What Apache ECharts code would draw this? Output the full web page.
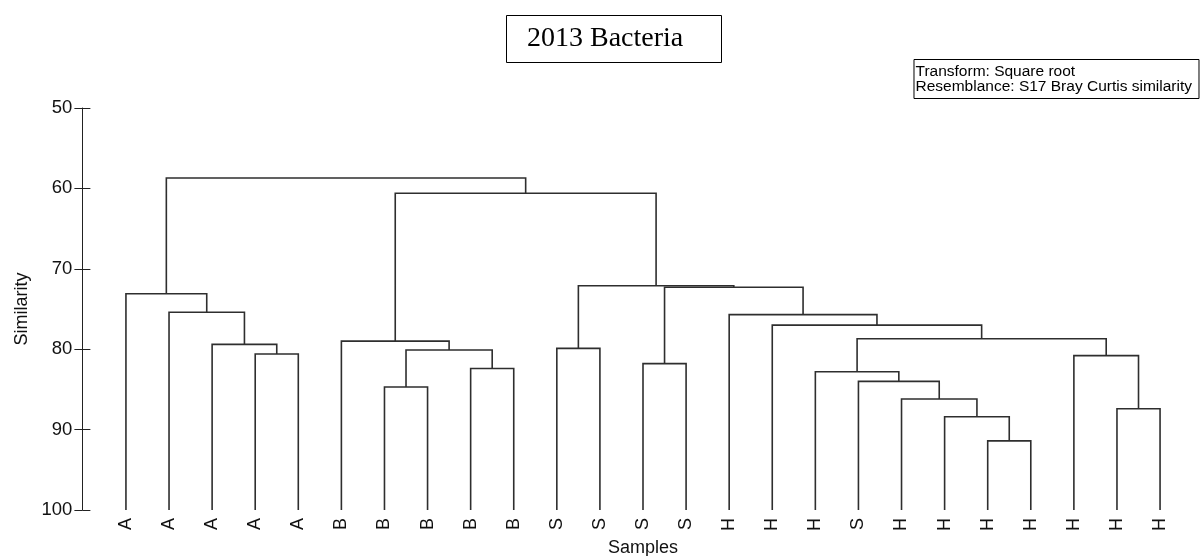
<!DOCTYPE html>
<html>
<head>
<meta charset="utf-8">
<script src="https://cdn.jsdelivr.net/npm/echarts@6/dist/echarts.min.js"></script>
<style>
  html, body { margin: 0; padding: 0; background: #fff; }
  #main { width: 1202px; height: 556px; }
</style>
</head>
<body>
<div id="main"></div>
<script>
// leaf labels, left to right
var leafLabels = ['A', 'A', 'A', 'A', 'A', 'B', 'B', 'B', 'B', 'B', 'S', 'S', 'S', 'S',
                  'H', 'H', 'H', 'S', 'H', 'H', 'H', 'H', 'H', 'H', 'H'];

// merges: [left child, right child, similarity]; leaves are 0..24, node k is 25+k
var mergeLeft  = [3, 2, 1, 0, 6, 8, 29, 5, 10, 12, 20, 19, 18, 17, 16, 23, 22, 39, 15, 14, 34, 33, 32, 28];
var mergeRight = [4, 25, 26, 27, 7, 9, 30, 31, 11, 13, 21, 35, 36, 37, 38, 24, 40, 41, 42, 43, 44, 45, 46, 47];
var mergeSim   = [80.6, 79.4, 75.4, 73.1, 84.7, 82.4, 80.1, 79.0, 79.9, 81.8, 91.4, 88.4, 86.2, 84.0,
                  82.8, 87.4, 80.8, 78.7, 77.0, 75.7, 72.3, 72.1, 60.6, 58.7];

var nLeaf = leafLabels.length;
var posX = [], posH = [];
for (var i = 0; i < nLeaf; i++) {
    posX.push(i + 0.5);   // centre of the category band
    posH.push(100);
}
var links = [];
for (var k = 0; k < mergeSim.length; k++) {
    var l = mergeLeft[k], r = mergeRight[k];
    links.push([posX[l], posX[r], posH[l], posH[r], mergeSim[k]]);
    posX.push((posX[l] + posX[r]) / 2);
    posH.push(mergeSim[k]);
}

var myChart = echarts.init(document.getElementById('main'));
var font = "'Liberation Sans', Arial, sans-serif";

option = {
    animation: false,
    backgroundColor: '#fff',
    title: [
        {
            text: '2013 Bacteria',
            left: 506,
            top: 15,
            borderColor: '#000',
            borderWidth: 1,
            padding: [8, 38, 8, 21],
            textStyle: {
                fontFamily: "'Liberation Serif', 'Times New Roman', serif",
                fontSize: 28,
                fontWeight: 'normal',
                lineHeight: 32,
                color: '#000'
            }
        },
        {
            text: 'Transform: Square root\nResemblance: S17 Bray Curtis similarity',
            right: 3,
            top: 60,
            borderColor: '#000',
            borderWidth: 1,
            padding: [4, 7, 4, 2],
            textStyle: {
                fontFamily: font,
                fontSize: 15.5,
                fontWeight: 'normal',
                lineHeight: 15,
                color: '#000'
            }
        }
    ],
    grid: {
        left: 104.4,
        right: 20.4,
        top: 108,
        bottom: 46,
        outerBoundsMode: 'none'
    },
    xAxis: [
        {
            type: 'value',
            min: 0,
            max: nLeaf,
            show: false
        },
        {
            type: 'category',
            data: leafLabels,
            boundaryGap: true,
            position: 'bottom',
            axisLine: { show: false, onZero: false },
            axisTick: { show: false },
            axisLabel: {
                interval: 0,
                rotate: 90,
                margin: 8,
                fontFamily: font,
                fontSize: 18,
                color: '#111'
            },
            name: 'Samples',
            nameLocation: 'middle',
            nameGap: 25,
            nameTextStyle: { fontFamily: font, fontSize: 18, color: '#111' }
        }
    ],
    yAxis: [
        {
            type: 'value',
            inverse: true,
            min: 50,
            max: 100,
            interval: 10,
            position: 'left',
            offset: 22,
            splitLine: { show: false },
            axisLine: { show: true, onZero: false, lineStyle: { color: '#222', width: 1 } },
            axisTick: { show: true, length: 8, lineStyle: { color: '#222', width: 1 } },
            axisLabel: {
                margin: 10,
                fontFamily: font,
                fontSize: 18.5,
                color: '#111'
            },
            name: 'Similarity',
            nameLocation: 'middle',
            nameGap: 46,
            nameTextStyle: { fontFamily: font, fontSize: 18, color: '#111' }
        },
        {
            // second copy only for the tick marks on the inner side
            type: 'value',
            inverse: true,
            min: 50,
            max: 100,
            interval: 10,
            position: 'left',
            offset: 22,
            splitLine: { show: false },
            axisLine: { show: false, onZero: false },
            axisTick: { show: true, inside: true, length: 8, lineStyle: { color: '#222', width: 1 } },
            axisLabel: { show: false }
        }
    ],
    series: [
        {
            type: 'custom',
            xAxisIndex: 0,
            yAxisIndex: 0,
            clip: false,
            data: links,
            renderItem: function (params, api) {
                var a = api.coord([api.value(0), api.value(2)]);
                var b = api.coord([api.value(0), api.value(4)]);
                var c = api.coord([api.value(1), api.value(4)]);
                var d = api.coord([api.value(1), api.value(3)]);
                return {
                    type: 'polyline',
                    shape: { points: [a, b, c, d] },
                    style: { stroke: '#2e2e2e', lineWidth: 1.6, fill: null }
                };
            }
        }
    ]
};

myChart.setOption(option);
</script>
</body>
</html>
